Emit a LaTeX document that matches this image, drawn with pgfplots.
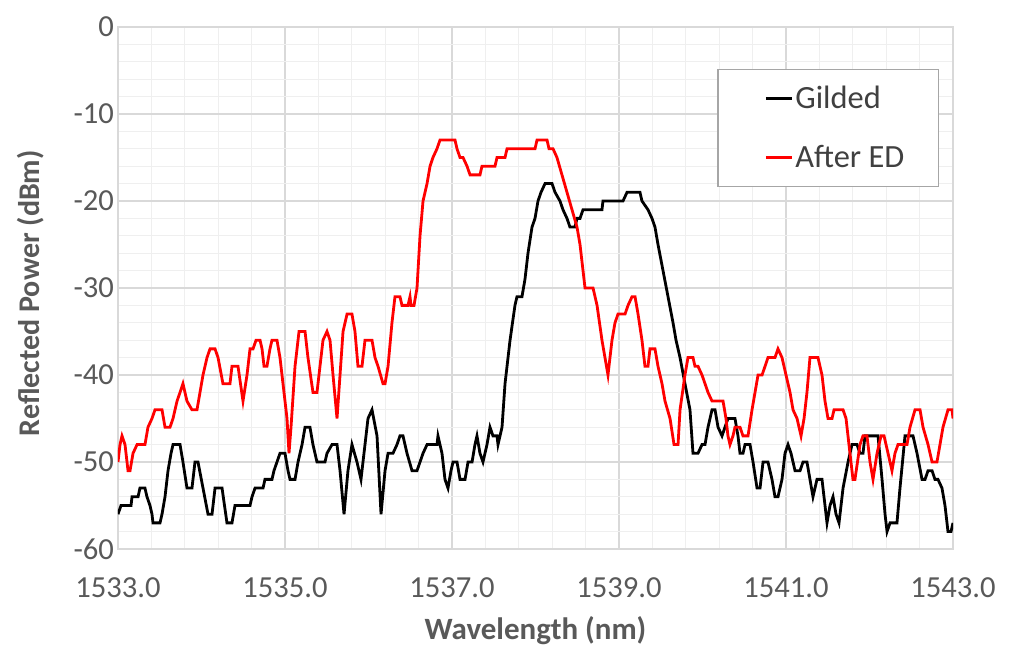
\documentclass[border=0pt]{standalone}
\usepackage{fontspec}
\setmainfont{Carlito}
\usepackage{pgfplots}
\pgfplotsset{compat=1.18}
\definecolor{tickgray}{HTML}{595959}
\definecolor{legtext}{HTML}{404040}
\definecolor{majgrid}{HTML}{D9D9D9}
\definecolor{mingrid}{HTML}{EFEFEF}
\definecolor{legborder}{HTML}{A6A6A6}
\begin{document}
\begin{tikzpicture}
\begin{axis}[
  name=ax,
  scale only axis,
  width=417.5pt, height=261pt,
  xmin=1533, xmax=1543, ymin=-60, ymax=0,
  xtick={1533,1535,1537,1539,1541,1543},
  ytick={-60,-50,-40,-30,-20,-10,0},
  minor x tick num=4, minor y tick num=4,
  grid=both,
  major grid style={draw=majgrid, line width=0.6pt},
  minor grid style={draw=mingrid, line width=0.6pt},
  axis line style={draw=majgrid, line width=0.6pt},
  major tick style={draw=none}, minor tick style={draw=none},
  /pgf/number format/assume math mode=true,
  x tick label style={/pgf/number format/fixed, /pgf/number format/fixed zerofill,
    /pgf/number format/precision=1, /pgf/number format/1000 sep={},
    font=\fontsize{15.3}{18}\selectfont, text=tickgray, anchor=center, yshift=-19.5pt},
  y tick label style={font=\fontsize{15.3}{18}\selectfont, text=tickgray, anchor=east, xshift=1.5pt},
  xlabel={Wavelength (nm)},
  ylabel={Reflected Power (dBm)},
  xlabel style={font=\bfseries\fontsize{15.5}{18}\selectfont, text=tickgray, at={(axis description cs:0.5,-0.156)}, anchor=center},
  ylabel style={font=\bfseries\fontsize{15}{18}\selectfont, text=tickgray, at={(axis description cs:-0.105,0.49)}, anchor=center},
  legend style={at={(0.983,0.9195)}, anchor=north east, draw=legborder, line width=0.6pt, fill=white,
    font=\fontsize{16.2}{19}\selectfont, text=legtext, inner xsep=16pt, inner ysep=6pt, row sep=13pt,
    nodes={inner xsep=1pt}},
  legend cell align=left,
  legend image code/.code={\path[draw=none, fill=none] (-8pt,-1pt) rectangle (0pt,1pt); \draw[#1, line width=1.4pt] (0pt,0pt) -- (13pt,0pt);},
]
\addplot[black, line width=1.4pt] coordinates {
(1533.000,-56) (1533.036,-55) (1533.156,-55) (1533.168,-54) (1533.240,-54) (1533.263,-53) (1533.323,-53)
(1533.347,-54) (1533.383,-55) (1533.407,-56) (1533.419,-57) (1533.503,-57) (1533.527,-56) (1533.563,-54)
(1533.599,-51) (1533.635,-49) (1533.659,-48) (1533.743,-48) (1533.778,-50) (1533.826,-53) (1533.886,-53)
(1533.922,-50) (1533.958,-50) (1534.018,-53) (1534.078,-56) (1534.126,-56) (1534.162,-53) (1534.246,-53)
(1534.305,-57) (1534.365,-57) (1534.401,-55) (1534.581,-55) (1534.605,-54) (1534.641,-53) (1534.737,-53)
(1534.760,-52) (1534.844,-52) (1534.868,-51) (1534.904,-50) (1534.940,-49) (1535.000,-49) (1535.036,-51)
(1535.060,-52) (1535.120,-52) (1535.156,-50) (1535.204,-48) (1535.240,-46) (1535.299,-46) (1535.335,-48)
(1535.383,-50) (1535.479,-50) (1535.503,-49) (1535.563,-48) (1535.623,-48) (1535.659,-51) (1535.707,-56)
(1535.754,-51) (1535.802,-48) (1535.862,-50) (1535.910,-52) (1535.958,-48) (1535.994,-45) (1536.042,-44)
(1536.102,-47) (1536.150,-56) (1536.198,-51) (1536.234,-49) (1536.293,-49) (1536.341,-48) (1536.377,-47)
(1536.413,-47) (1536.461,-49) (1536.521,-51) (1536.581,-51) (1536.617,-50) (1536.653,-49) (1536.701,-48)
(1536.820,-48) (1536.832,-47) (1536.880,-49) (1536.916,-52) (1536.952,-53) (1536.988,-51) (1537.012,-50)
(1537.060,-50) (1537.096,-52) (1537.156,-52) (1537.192,-50) (1537.240,-50) (1537.275,-48) (1537.299,-47)
(1537.335,-49) (1537.371,-50) (1537.419,-48) (1537.455,-46) (1537.491,-47) (1537.539,-47) (1537.551,-48)
(1537.599,-46) (1537.635,-41) (1537.695,-36) (1537.754,-32) (1537.778,-31) (1537.838,-31) (1537.874,-29)
(1537.910,-26) (1537.958,-23) (1537.994,-22) (1538.030,-20) (1538.066,-19) (1538.114,-18) (1538.198,-18)
(1538.234,-19) (1538.293,-20) (1538.329,-21) (1538.377,-22) (1538.413,-23) (1538.473,-23) (1538.497,-22)
(1538.533,-22) (1538.569,-21) (1538.796,-21) (1538.808,-20) (1539.048,-20) (1539.096,-19) (1539.251,-19)
(1539.275,-20) (1539.347,-21) (1539.395,-22) (1539.431,-23) (1539.467,-25) (1539.527,-28) (1539.587,-31)
(1539.647,-34) (1539.683,-36) (1539.731,-38) (1539.790,-41) (1539.850,-44) (1539.886,-49) (1539.946,-49)
(1539.994,-48) (1540.030,-48) (1540.066,-46) (1540.114,-44) (1540.150,-44) (1540.186,-46) (1540.234,-47)
(1540.269,-46) (1540.305,-45) (1540.389,-45) (1540.425,-47) (1540.449,-49) (1540.485,-49) (1540.509,-48)
(1540.569,-48) (1540.605,-50) (1540.653,-53) (1540.689,-53) (1540.725,-50) (1540.784,-50) (1540.832,-52)
(1540.868,-54) (1540.904,-54) (1540.952,-52) (1540.988,-49) (1541.024,-48) (1541.060,-49) (1541.108,-51)
(1541.168,-51) (1541.204,-50) (1541.251,-50) (1541.287,-52) (1541.323,-54) (1541.371,-52) (1541.431,-52)
(1541.467,-55) (1541.491,-57) (1541.527,-55) (1541.563,-54) (1541.599,-56) (1541.635,-57) (1541.683,-53)
(1541.743,-50) (1541.790,-48) (1541.850,-48) (1541.886,-49) (1541.922,-49) (1541.946,-47) (1542.102,-47)
(1542.150,-52) (1542.186,-56) (1542.210,-58) (1542.246,-57) (1542.329,-57) (1542.365,-53) (1542.425,-47)
(1542.521,-47) (1542.569,-49) (1542.629,-52) (1542.665,-52) (1542.701,-51) (1542.749,-51) (1542.784,-52)
(1542.820,-52) (1542.868,-53) (1542.904,-55) (1542.940,-58) (1542.976,-58) (1543.000,-57)
};
\addlegendentry{Gilded}
\addplot[red, line width=1.4pt] coordinates {
(1533.000,-50) (1533.024,-48) (1533.048,-47) (1533.084,-48) (1533.120,-51) (1533.144,-51) (1533.180,-49)
(1533.228,-48) (1533.323,-48) (1533.359,-46) (1533.407,-45) (1533.443,-44) (1533.527,-44) (1533.563,-46)
(1533.623,-46) (1533.659,-45) (1533.707,-43) (1533.743,-42) (1533.778,-41) (1533.826,-43) (1533.886,-44)
(1533.946,-44) (1533.982,-42) (1534.018,-40) (1534.066,-38) (1534.102,-37) (1534.162,-37) (1534.198,-38)
(1534.257,-41) (1534.341,-41) (1534.365,-39) (1534.437,-39) (1534.497,-43) (1534.545,-40) (1534.581,-37)
(1534.617,-37) (1534.653,-36) (1534.701,-36) (1534.725,-37) (1534.749,-39) (1534.784,-39) (1534.820,-37)
(1534.844,-36) (1534.904,-36) (1534.940,-38) (1534.976,-41) (1535.024,-45) (1535.048,-49) (1535.072,-46)
(1535.120,-39) (1535.168,-35) (1535.240,-35) (1535.275,-38) (1535.335,-42) (1535.383,-42) (1535.419,-39)
(1535.455,-36) (1535.503,-35) (1535.539,-36) (1535.575,-40) (1535.623,-45) (1535.659,-40) (1535.695,-35)
(1535.743,-33) (1535.802,-33) (1535.838,-35) (1535.874,-39) (1535.922,-39) (1535.958,-36) (1536.042,-36)
(1536.078,-38) (1536.114,-39) (1536.174,-41) (1536.198,-41) (1536.234,-39) (1536.281,-34) (1536.317,-31)
(1536.377,-31) (1536.401,-32) (1536.473,-32) (1536.497,-31) (1536.509,-32) (1536.545,-32) (1536.581,-30)
(1536.617,-24) (1536.653,-20) (1536.701,-18) (1536.737,-16) (1536.772,-15) (1536.820,-14) (1536.856,-13)
(1537.036,-13) (1537.060,-14) (1537.096,-15) (1537.132,-15) (1537.180,-16) (1537.216,-17) (1537.335,-17)
(1537.359,-16) (1537.515,-16) (1537.539,-15) (1537.635,-15) (1537.659,-14) (1537.994,-14) (1538.018,-13)
(1538.138,-13) (1538.162,-14) (1538.210,-14) (1538.257,-15) (1538.317,-17) (1538.377,-19) (1538.437,-21)
(1538.497,-23) (1538.533,-25) (1538.569,-28) (1538.593,-30) (1538.689,-30) (1538.737,-32) (1538.796,-36)
(1538.868,-40) (1538.916,-36) (1538.952,-34) (1538.988,-33) (1539.072,-33) (1539.108,-32) (1539.156,-31)
(1539.192,-31) (1539.228,-33) (1539.275,-36) (1539.311,-39) (1539.347,-39) (1539.371,-37) (1539.431,-37)
(1539.467,-39) (1539.515,-41) (1539.551,-43) (1539.611,-45) (1539.659,-48) (1539.707,-48) (1539.731,-44)
(1539.790,-40) (1539.826,-38) (1539.886,-38) (1539.910,-39) (1539.946,-39) (1539.994,-40) (1540.030,-41)
(1540.066,-42) (1540.114,-43) (1540.246,-43) (1540.281,-45) (1540.305,-47) (1540.329,-48) (1540.365,-47)
(1540.389,-46) (1540.449,-46) (1540.485,-47) (1540.545,-47) (1540.593,-44) (1540.629,-42) (1540.665,-40)
(1540.713,-40) (1540.749,-39) (1540.784,-38) (1540.868,-38) (1540.904,-37) (1540.952,-38) (1541.000,-40)
(1541.048,-42) (1541.084,-44) (1541.132,-45) (1541.180,-47) (1541.216,-45) (1541.251,-42) (1541.287,-38)
(1541.383,-38) (1541.431,-40) (1541.467,-43) (1541.503,-45) (1541.551,-45) (1541.575,-44) (1541.683,-44)
(1541.719,-45) (1541.754,-48) (1541.802,-52) (1541.826,-52) (1541.886,-48) (1541.922,-47) (1541.970,-47)
(1542.006,-50) (1542.042,-52) (1542.090,-49) (1542.138,-47) (1542.174,-47) (1542.222,-49) (1542.269,-51)
(1542.305,-49) (1542.341,-48) (1542.449,-48) (1542.485,-46) (1542.545,-44) (1542.605,-44) (1542.641,-46)
(1542.701,-48) (1542.749,-50) (1542.808,-50) (1542.844,-48) (1542.880,-46) (1542.940,-44) (1542.988,-44)
(1543.000,-45)
};
\addlegendentry{After ED}
\end{axis}
\pgfresetboundingbox
\path[use as bounding box] ([xshift=-59pt,yshift=-48.5pt]ax.south west) rectangle ([xshift=28.5pt,yshift=13.5pt]ax.north east);
\end{tikzpicture}
\end{document}
